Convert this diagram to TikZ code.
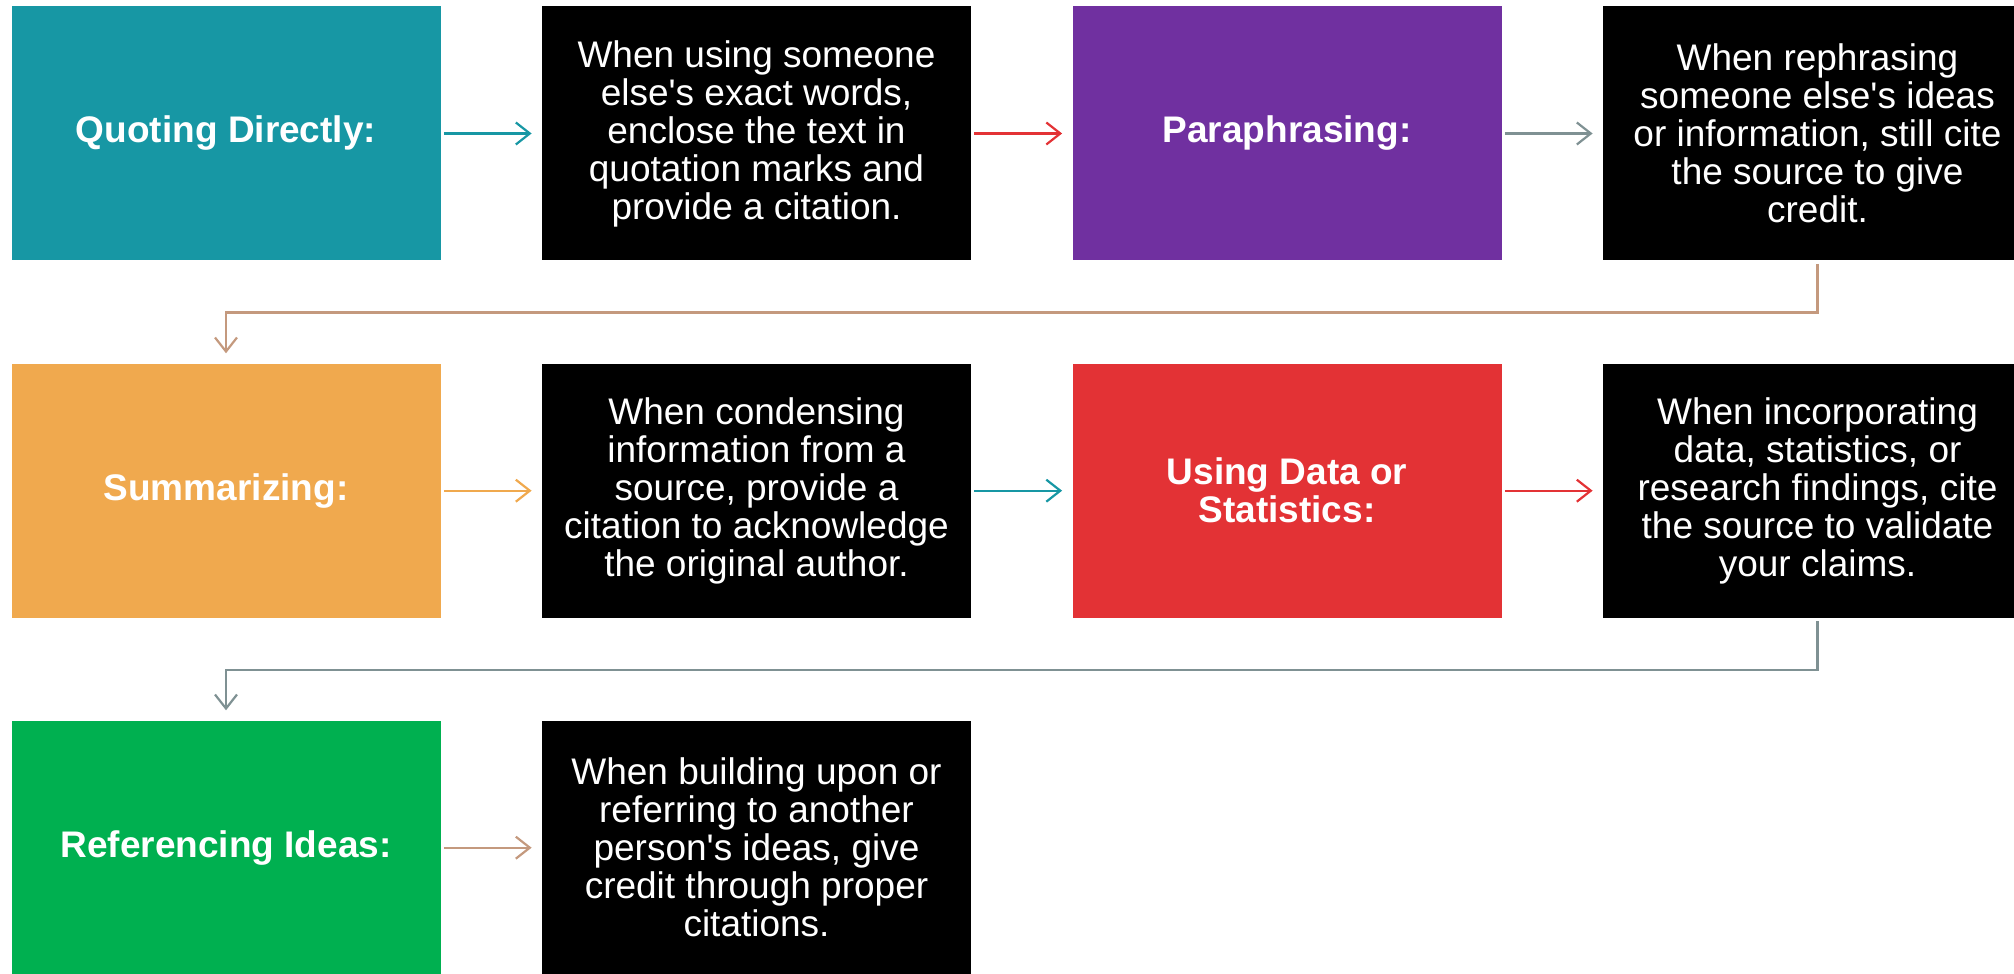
\documentclass[tikz,border=0pt]{standalone}
\usepackage{fontspec}
\setmainfont{Liberation Sans}
\usepackage{tikz}
\usetikzlibrary{arrows.meta}
\tikzset{>={Straight Barb[length=7pt,width=11pt]}}
\definecolor{quote}{RGB}{23, 151, 164}
\definecolor{para}{RGB}{112, 48, 160}
\definecolor{summ}{RGB}{240, 169, 78}
\definecolor{stats}{RGB}{227, 50, 53}
\definecolor{refer}{RGB}{0, 176, 80}
\definecolor{slate}{RGB}{127, 145, 147}
\definecolor{tan}{RGB}{196, 153, 126}

\begin{document}
\begin{tikzpicture}[x=0.5pt, y=0.5pt,
		card/.style={minimum width=214.5pt, minimum height=127pt, inner sep=0pt, align=center, text=white},
		head/.style={card, font=\fontsize{18.5}{19}\selectfont\bfseries},
		desc/.style={card, fill=black, font=\fontsize{18.5}{19}\selectfont},
		link/.style={->, line width=1.1pt, shorten <=1.5pt, shorten >=5pt}]
				\useasboundingbox (0,0) rectangle (2014,974);
				
				% row 1
				\node[head, fill=quote] (quoting) at (226, 840.5) {Quoting Directly:};
				\node[desc] (quotingtxt) at (756.5, 840.5) {When using someone\\else\textquotesingle s exact words,\\enclose the text in\\quotation marks and\\provide a citation.};
				\node[head, fill=para] (para) at (1287, 840.5) {Paraphrasing:};
				\node[desc] (paratxt) at (1817.5, 840.5) {When rephrasing\\someone else\textquotesingle s ideas\\or information, still cite\\the source to give\\credit.};
				
				% row 2
				\node[head, fill=summ] (summ) at (226, 483.3) {Summarizing:};
				\node[desc] (summtxt) at (756.5, 483.3) {When condensing\\information from a\\source, provide a\\citation to acknowledge\\the original author.};
				\node[head, fill=stats] (stats) at (1287, 483.3) {Using Data or\\Statistics:};
				\node[desc] (statstxt) at (1817.5, 483.3) {When incorporating\\data, statistics, or\\research findings, cite\\the source to validate\\your claims.};
				
				% row 3
				\node[head, fill=refer] (refer) at (226, 126.3) {Referencing Ideas:};
				\node[desc] (refertxt) at (756.5, 126.3) {When building upon or\\referring to another\\person\textquotesingle s ideas, give\\credit through proper\\citations.};
				
				\draw[link, quote] (quoting) -- (quotingtxt);
				\draw[link, stats] (quotingtxt) -- (para);
				\draw[link, slate] (para) -- (paratxt);
				\draw[link, tan] (paratxt.south) -- ++(0,-51.6) -| (summ.north); % back to row 2
				\draw[link, summ] (summ) -- (summtxt);
				\draw[link, quote] (summtxt) -- (stats);
				\draw[link, stats] (stats) -- (statstxt);
				\draw[link, slate] (statstxt.south) -- ++(0,-51.6) -| (refer.north); % back to row 3
				\draw[link, tan] (refer) -- (refertxt);
			
			\end{tikzpicture}
\end{document}
